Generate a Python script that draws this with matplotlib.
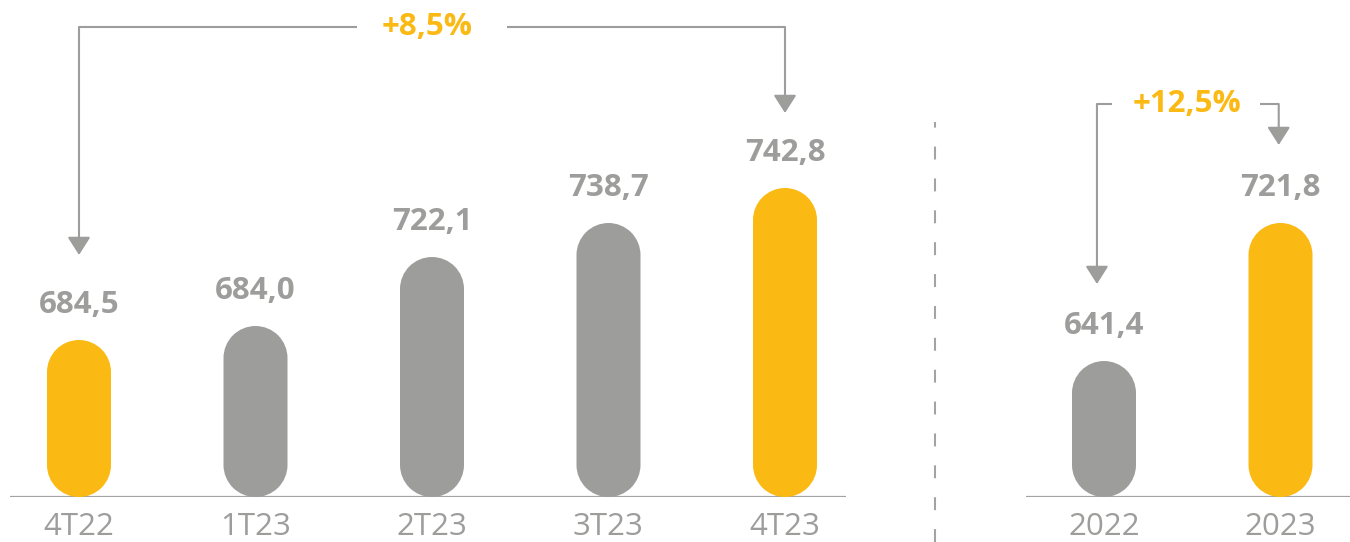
import matplotlib
matplotlib.use("Agg")
import matplotlib.pyplot as plt
from matplotlib.patches import PathPatch
from matplotlib.path import Path
from matplotlib.lines import Line2D

# quarterly panel
quarters = ["4T22", "1T23", "2T23", "3T23", "4T23"]
quarter_values = [684.5, 684.0, 722.1, 738.7, 742.8]
quarter_heights = [157, 171, 240, 274, 309]   # drawn bar heights
quarter_highlight = [True, False, False, False, True]
quarter_growth = "+8,5%"

# yearly panel
years = ["2022", "2023"]
year_values = [641.4, 721.8]
year_heights = [136, 274]
year_highlight = [False, True]
year_growth = "+12,5%"

GREY = "#9d9d9c"
YELLOW = "#fbb914"
LINE = "#a3a3a3"
FONT = "Open Sans"

W, H = 1350, 542
BASE = 497          # baseline, pixels from the top
SPACING = 176.5     # pixels between bar centres
BAR_W = 64 / SPACING
R = 32              # cap radius in pixels (= y units)


def fmt(v):
    return f"{v:.1f}".replace(".", ",")


def pill(x, h):
    # one closed path: upper half ellipse, lower half ellipse, in data units
    top = Path.arc(0, 180)
    bot = Path.arc(180, 360)
    verts = [(x + vx * BAR_W / 2, h - R + vy * R) for vx, vy in top.vertices]
    verts += [(x + vx * BAR_W / 2, R + vy * R) for vx, vy in bot.vertices]
    verts.append(verts[0])
    codes = list(top.codes) + [Path.LINETO] + list(bot.codes[1:]) + [Path.CLOSEPOLY]
    return Path(verts, codes)


def make_axes(fig, left_px, right_px, first_px):
    ax = fig.add_axes([left_px / W, (H - BASE) / H, (right_px - left_px) / W, BASE / H])
    ax.set_xlim((left_px - first_px) / SPACING, (right_px - first_px) / SPACING)
    ax.set_ylim(0, BASE)
    ax.axis("off")
    ax.axhline(0, color=LINE, lw=1.6, zorder=1)
    return ax


def draw_bars(ax, labels, values, heights, highlight):
    for i, (lab, v, h, hl) in enumerate(zip(labels, values, heights, highlight)):
        ax.add_patch(PathPatch(pill(i, h), fc=YELLOW if hl else GREY, ec="none", zorder=2))
        ax.text(i, h + 35, fmt(v), ha="center", va="center", fontsize=22.5,
                fontweight="bold", color=GREY, family=FONT)
        ax.text(i, -38, lab, ha="center", va="baseline", fontsize=22.5,
                color=GREY, family=FONT, clip_on=False)


def bracket(ax, x0, x1, y, tip0, tip1, gap0, gap1, text, tx):
    kw = dict(color=GREY, lw=1.5, solid_capstyle="butt", clip_on=False)
    ax.plot([x0, gap0], [y, y], **kw)
    ax.plot([gap1, x1], [y, y], **kw)
    arrow = dict(arrowstyle="-|>,head_length=1.1,head_width=0.7", mutation_scale=10,
                 color=GREY, lw=1.5, shrinkA=0, shrinkB=0)
    ax.annotate("", xy=(x0, tip0), xytext=(x0, y), arrowprops=arrow, annotation_clip=False)
    ax.annotate("", xy=(x1, tip1), xytext=(x1, y), arrowprops=arrow, annotation_clip=False)
    ax.text(tx, y, text, ha="center", va="center", fontsize=22.5, fontweight="bold",
            color=YELLOW, family=FONT)


fig = plt.figure(figsize=(W / 100, H / 100), dpi=100)

ax1 = make_axes(fig, 10, 846, 79)
draw_bars(ax1, quarters, quarter_values, quarter_heights, quarter_highlight)
bracket(ax1, 0, 4, 470, 242, 384, 1.575, 2.425, quarter_growth, 1.975)

ax2 = make_axes(fig, 1026, 1350, 1104)
draw_bars(ax2, years, year_values, year_heights, year_highlight)
bracket(ax2, -0.04, 0.99, 393, 213, 352, 0.045, 0.885, year_growth, 0.47)

# dashed separator between the panels
fig.add_artist(Line2D([935 / W, 935 / W], [0, (H - 122) / H], color=LINE, lw=1.5,
                      linestyle=(0, (6.2, 9.1))))

fig.savefig("out.png", dpi=100)
